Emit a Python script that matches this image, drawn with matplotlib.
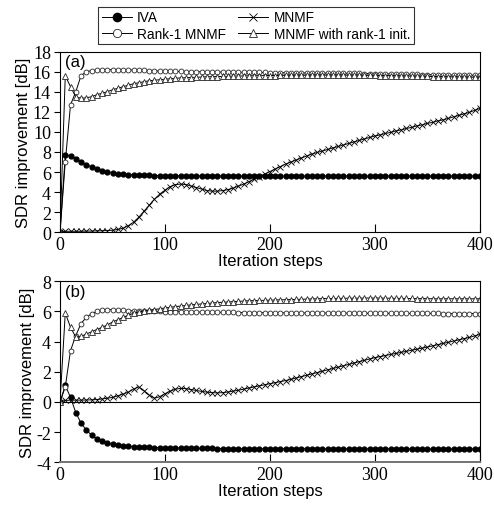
import numpy as np
import matplotlib
matplotlib.use("Agg")
import matplotlib.pyplot as plt

plt.rcParams["axes.unicode_minus"] = False

# iteration axis (markers every 5 steps)
iterations = np.arange(0, 401, 5)

# (a) SDR improvement [dB]
a_iva = [0.0, 7.7, 7.6, 7.35, 7.05, 6.75, 6.5, 6.3, 6.15, 6.0,
         5.9, 5.85, 5.8, 5.75, 5.72, 5.7, 5.68, 5.66, 5.65, 5.64,
         5.63, 5.63, 5.62, 5.62, 5.62, 5.61, 5.61, 5.61, 5.61, 5.6,
         5.6, 5.6, 5.6, 5.6, 5.6, 5.6, 5.6, 5.6, 5.6, 5.6,
         5.6, 5.6, 5.6, 5.6, 5.6, 5.6, 5.6, 5.6, 5.6, 5.6,
         5.6, 5.6, 5.6, 5.6, 5.6, 5.6, 5.6, 5.6, 5.6, 5.6,
         5.6, 5.6, 5.6, 5.6, 5.6, 5.6, 5.6, 5.6, 5.6, 5.6,
         5.6, 5.6, 5.6, 5.6, 5.6, 5.6, 5.6, 5.6, 5.6, 5.6,
         5.6]
a_rank1 = [0.0, 7.0, 12.7, 14.0, 15.6, 16.0, 16.1, 16.15, 16.2, 16.2,
           16.2, 16.2, 16.2, 16.18, 16.16, 16.14, 16.12, 16.1, 16.08, 16.06,
           16.05, 16.04, 16.03, 16.02, 16.01, 16.0, 16.0, 15.99, 15.98, 15.97,
           15.96, 15.96, 15.95, 15.95, 15.94, 15.94, 15.93, 15.93, 15.92, 15.92,
           15.91, 15.91, 15.9, 15.9, 15.89, 15.89, 15.88, 15.88, 15.87, 15.87,
           15.86, 15.86, 15.85, 15.85, 15.84, 15.84, 15.83, 15.83, 15.82, 15.82,
           15.81, 15.8, 15.79, 15.78, 15.77, 15.76, 15.75, 15.74, 15.73, 15.72,
           15.71, 15.7, 15.69, 15.68, 15.67, 15.66, 15.66, 15.65, 15.65, 15.64,
           15.64]
a_mnmf = [0.0, 0.1, 0.1, 0.1, 0.1, 0.12, 0.12, 0.14, 0.15, 0.17,
          0.2, 0.28, 0.4, 0.65, 1.0, 1.5, 2.1, 2.7, 3.3, 3.8,
          4.2, 4.55, 4.75, 4.8, 4.75, 4.6, 4.45, 4.3, 4.15, 4.1,
          4.1, 4.15, 4.25, 4.4, 4.6, 4.8, 5.05, 5.3, 5.55, 5.8,
          6.05, 6.3, 6.55, 6.8, 7.0, 7.2, 7.4, 7.6, 7.8, 7.95,
          8.1, 8.25, 8.4, 8.55, 8.7, 8.85, 9.0, 9.15, 9.3, 9.45,
          9.6, 9.7, 9.85, 9.95, 10.1, 10.2, 10.35, 10.45, 10.6, 10.7,
          10.85, 10.95, 11.1, 11.2, 11.35, 11.5, 11.65, 11.8, 11.95, 12.15,
          12.35]
a_init = [0.0, 15.6, 14.5, 13.5, 13.35, 13.4, 13.5, 13.7, 13.85, 14.0,
          14.2, 14.35, 14.5, 14.65, 14.8, 14.9, 15.0, 15.1, 15.15, 15.2,
          15.25, 15.3, 15.35, 15.38, 15.4, 15.42, 15.45, 15.47, 15.5, 15.5,
          15.52, 15.53, 15.55, 15.56, 15.57, 15.58, 15.59, 15.6, 15.6, 15.61,
          15.62, 15.62, 15.63, 15.63, 15.64, 15.64, 15.65, 15.65, 15.65, 15.66,
          15.66, 15.66, 15.66, 15.66, 15.66, 15.65, 15.65, 15.65, 15.64, 15.64,
          15.63, 15.62, 15.61, 15.6, 15.59, 15.58, 15.57, 15.56, 15.55, 15.54,
          15.53, 15.52, 15.51, 15.5, 15.49, 15.48, 15.47, 15.46, 15.45, 15.45,
          15.44]

# (b) SDR improvement [dB]
b_iva = [0.0, 1.1, 0.3, -0.7, -1.4, -1.85, -2.2, -2.45, -2.6, -2.72,
         -2.8, -2.86, -2.9, -2.94, -2.97, -2.99, -3.0, -3.01, -3.02, -3.03,
         -3.04, -3.05, -3.05, -3.06, -3.06, -3.07, -3.07, -3.08, -3.08, -3.08,
         -3.09, -3.09, -3.09, -3.09, -3.1, -3.1, -3.1, -3.1, -3.1, -3.1,
         -3.1, -3.1, -3.1, -3.1, -3.1, -3.1, -3.1, -3.1, -3.1, -3.1,
         -3.11, -3.11, -3.11, -3.11, -3.11, -3.11, -3.11, -3.11, -3.11, -3.11,
         -3.11, -3.11, -3.11, -3.11, -3.11, -3.11, -3.11, -3.11, -3.11, -3.11,
         -3.12, -3.12, -3.12, -3.12, -3.12, -3.12, -3.12, -3.12, -3.12, -3.12,
         -3.12]
b_rank1 = [0.0, 1.0, 3.4, 4.4, 5.2, 5.6, 5.85, 6.0, 6.1, 6.12,
           6.12, 6.1, 6.08, 6.06, 6.04, 6.03, 6.02, 6.01, 6.0, 6.0,
           5.99, 5.99, 5.98, 5.98, 5.97, 5.97, 5.96, 5.96, 5.95, 5.95,
           5.95, 5.94, 5.94, 5.94, 5.93, 5.93, 5.93, 5.92, 5.92, 5.92,
           5.92, 5.91, 5.91, 5.91, 5.91, 5.9, 5.9, 5.9, 5.9, 5.9,
           5.9, 5.89, 5.89, 5.89, 5.89, 5.89, 5.89, 5.88, 5.88, 5.88,
           5.88, 5.88, 5.88, 5.88, 5.87, 5.87, 5.87, 5.87, 5.87, 5.87,
           5.87, 5.87, 5.87, 5.86, 5.86, 5.86, 5.86, 5.86, 5.86, 5.86,
           5.86]
b_mnmf = [0.0, 0.1, 0.12, 0.12, 0.12, 0.13, 0.14, 0.16, 0.2, 0.25,
          0.3, 0.4, 0.52, 0.65, 0.85, 1.0, 0.75, 0.45, 0.25, 0.35,
          0.55, 0.72, 0.85, 0.9, 0.88, 0.82, 0.76, 0.7, 0.65, 0.62,
          0.6, 0.62, 0.66, 0.72, 0.78, 0.85, 0.93, 1.0, 1.07, 1.14,
          1.21, 1.28, 1.35, 1.42, 1.5, 1.59, 1.68, 1.77, 1.86, 1.95,
          2.04, 2.13, 2.22, 2.31, 2.4, 2.49, 2.58, 2.67, 2.76, 2.85,
          2.94, 3.01, 3.08, 3.15, 3.22, 3.29, 3.36, 3.43, 3.5, 3.57,
          3.64, 3.72, 3.8, 3.88, 3.96, 4.04, 4.12, 4.2, 4.28, 4.38,
          4.48]
b_init = [0.0, 5.9, 4.95, 4.3, 4.35, 4.5, 4.65, 4.8, 4.95, 5.1,
          5.3, 5.45, 5.6, 5.75, 5.88, 5.97, 6.03, 6.08, 6.13, 6.18,
          6.23, 6.28, 6.32, 6.36, 6.4, 6.44, 6.47, 6.5, 6.53, 6.56,
          6.59, 6.61, 6.63, 6.65, 6.67, 6.69, 6.71, 6.72, 6.73, 6.74,
          6.75, 6.76, 6.77, 6.78, 6.79, 6.8, 6.81, 6.82, 6.83, 6.84,
          6.85, 6.86, 6.86, 6.87, 6.87, 6.88, 6.88, 6.88, 6.89, 6.89,
          6.89, 6.89, 6.88, 6.88, 6.87, 6.87, 6.86, 6.86, 6.85, 6.85,
          6.85, 6.84, 6.84, 6.84, 6.84, 6.84, 6.84, 6.84, 6.84, 6.84,
          6.84]

series_names = ["IVA", "Rank-1 MNMF", "MNMF", "MNMF with rank-1 init."]
panel_labels = ["(a)", "(b)"]
x_ticks = [0, 100, 200, 300, 400]

SANS = "Liberation Sans"
SERIF = "Liberation Serif"

# marker styles for each method
styles = [
    dict(marker="o", markersize=3.5, markerfacecolor="black", markeredgecolor="black"),
    dict(marker="o", markersize=3.5, markerfacecolor="white", markeredgecolor="0.15", markeredgewidth=0.6),
    dict(marker="x", markersize=3.8, markeredgecolor="black", markeredgewidth=0.6),
    dict(marker="^", markersize=3.7, markerfacecolor="white", markeredgecolor="0.15", markeredgewidth=0.6),
]

fig = plt.figure(figsize=(4.94, 5.06), dpi=100)
ax_a = fig.add_axes([0.1215, 0.539, 0.850, 0.357])
ax_b = fig.add_axes([0.1215, 0.0844, 0.850, 0.3577])

panels = [
    (ax_a, [a_iva, a_rank1, a_mnmf, a_init], (0, 18), np.arange(0, 19, 2)),
    (ax_b, [b_iva, b_rank1, b_mnmf, b_init], (-4, 8), np.arange(-4, 9, 2)),
]

handles = []
for i, (ax, data, ylim, yticks) in enumerate(panels):
    for name, vals, st in zip(series_names, data, styles):
        h, = ax.plot(iterations, vals, color="black", linewidth=0.7, label=name, **st)
        if i == 0:
            handles.append(h)
    ax.set_xlim(0, 400)
    ax.set_ylim(*ylim)
    ax.set_xticks(x_ticks)
    ax.set_yticks(yticks)
    ax.tick_params(axis="x", direction="in", length=6, width=0.8, labelsize=13, pad=3)
    ax.tick_params(axis="y", direction="out", length=4.5, width=0.8, labelsize=13, pad=2)
    for lab in ax.get_xticklabels() + ax.get_yticklabels():
        lab.set_fontfamily(SERIF)
    ax.set_xlabel("Iteration steps", fontsize=12, family=SANS, labelpad=0)
    ax.set_ylabel("SDR improvement [dB]", fontsize=12, family=SANS, labelpad=1)
    ax.text(0.012, 0.985, panel_labels[i], transform=ax.transAxes, ha="left", va="top",
            fontsize=12, family=SANS)
    for sp in ax.spines.values():
        sp.set_linewidth(0.8)

# zero line in (b), greyish bottom frame
ax_b.axhline(0, color="black", linewidth=0.8, zorder=1)
ax_b.spines["bottom"].set_color("0.45")
ax_b.spines["bottom"].set_linewidth(1.4)

leg = fig.legend(handles=handles, loc="upper center", bbox_to_anchor=(0.518, 0.984), ncol=2,
                 prop={"family": SANS, "size": 9.8}, frameon=True, fancybox=False,
                 edgecolor="black", handlelength=2.2, handletextpad=0.4, columnspacing=0.9,
                 labelspacing=0.15, borderpad=0.25, markerscale=1.7, borderaxespad=0)
leg.get_frame().set_linewidth(0.8)

plt.savefig("out.png", dpi=100)
plt.close()
